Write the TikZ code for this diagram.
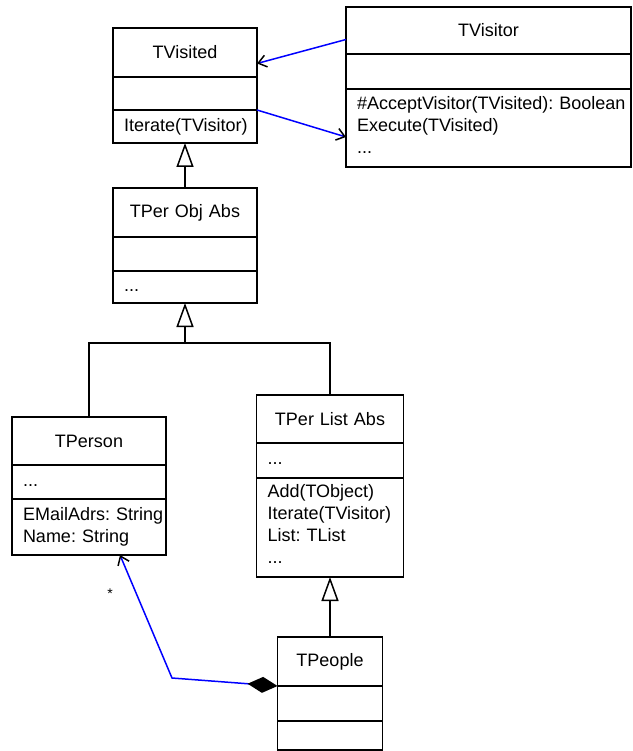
\documentclass[tikz,border=0pt]{standalone}
\usepackage{fontspec}
\setmainfont{Liberation Sans}
\usetikzlibrary{arrows.meta, positioning}

\begin{document}
\frenchspacing
\begin{tikzpicture}[
    x=1pt, y=-1pt,
    font=\fontsize{18}{22}\selectfont,
    head/.style={draw, line width=1.5pt, outer sep=0pt, inner xsep=11pt, inner ysep=0pt, text width=#1, align=center, minimum height=48pt},
    part/.style={draw, line width=1.5pt, outer sep=0pt, inner xsep=11pt, inner ysep=0pt, text width=#1, align=left},
    inherit/.style={-{Triangle[open, length=24pt, width=17pt]}, line width=1.5pt},
    link/.style={line width=1.5pt},
    assoc/.style={draw=blue, line width=1.5pt},
    navto/.style={-{Straight Barb[black, length=8pt, width=12pt]}},
    mult/.style={font=\fontsize{14}{16}\selectfont, inner sep=0pt}
]
\useasboundingbox (0,0) rectangle (632,751);

\node[head=122pt, minimum height=49pt, anchor=north west] (visitedT) at (113,28) {TVisited};
\node[part=122pt, minimum height=33pt, below=0pt of visitedT] (visitedA) {};
\node[part=122pt, minimum height=33pt, below=0pt of visitedA] (visitedO) {Iterate(TVisitor)};

\node[head=263pt, minimum height=47pt, anchor=north west] (visitorT) at (346,7) {TVisitor};
\node[part=263pt, minimum height=35pt, below=0pt of visitorT] (visitorA) {};
\node[part=263pt, minimum height=78pt, below=0pt of visitorA] (visitorO) {\mbox{\#AcceptVisitor(TVisited): Boolean}\\Execute(TVisited)\\\strut...};

\node[head=122pt, minimum height=49pt, below=45pt of visitedO] (objT) {TPer Obj Abs};
\node[part=122pt, minimum height=34pt, below=0pt of objT] (objA) {};
\node[part=122pt, minimum height=32pt, below=0pt of objA] (objO) {\strut...};

\node[head=132pt, anchor=north west] (personT) at (12,417) {TPerson};
\node[part=132pt, minimum height=34pt, below=0pt of personT] (personA) {\strut...};
\node[part=132pt, minimum height=56pt, below=0pt of personA] (personO) {\mbox{EMailAdrs: String}\\Name: String};

\node[head=125pt, anchor=north west] (listT) at (256.5,395) {TPer List Abs};
\node[part=125pt, minimum height=35pt, below=0pt of listT] (listA) {\strut...};
\node[part=125pt, minimum height=99pt, below=0pt of listA] (listO) {Add(TObject)\\Iterate(TVisitor)\\List: TList\\\strut...};

\node[head=83pt, minimum height=49pt, below=60pt of listO] (peopleT) {TPeople};
\node[part=83pt, minimum height=35pt, below=0pt of peopleT] (peopleA) {};
\node[part=83pt, minimum height=29pt, below=0pt of peopleA] (peopleO) {};

\draw[inherit] (objT.north) -- (visitedO.south);
\coordinate[below=40pt of objO] (bar);
\draw[inherit] (bar) -- (objO.south);
\draw[link] (personT.north) |- (bar) -| (listT.north);
\draw[inherit] (peopleT.north) -- (listO.south);

\draw[assoc, navto] ([yshift=-9pt]visitorT.west) -- ([yshift=-11pt]visitedT.east);
\draw[assoc, navto] (visitedO.north east) -- ([yshift=-9pt]visitorO.west);

\coordinate (bend) at (172,678);
\draw[assoc, {Diamond[black, length=30pt, width=16pt]}-{Straight Barb[black, length=8pt, width=12pt]}] (peopleT.south west) -- (bend) -- ([xshift=31pt]personO.south);
\node[mult] (star) at (110,594) {*};

\end{tikzpicture}
\end{document}
